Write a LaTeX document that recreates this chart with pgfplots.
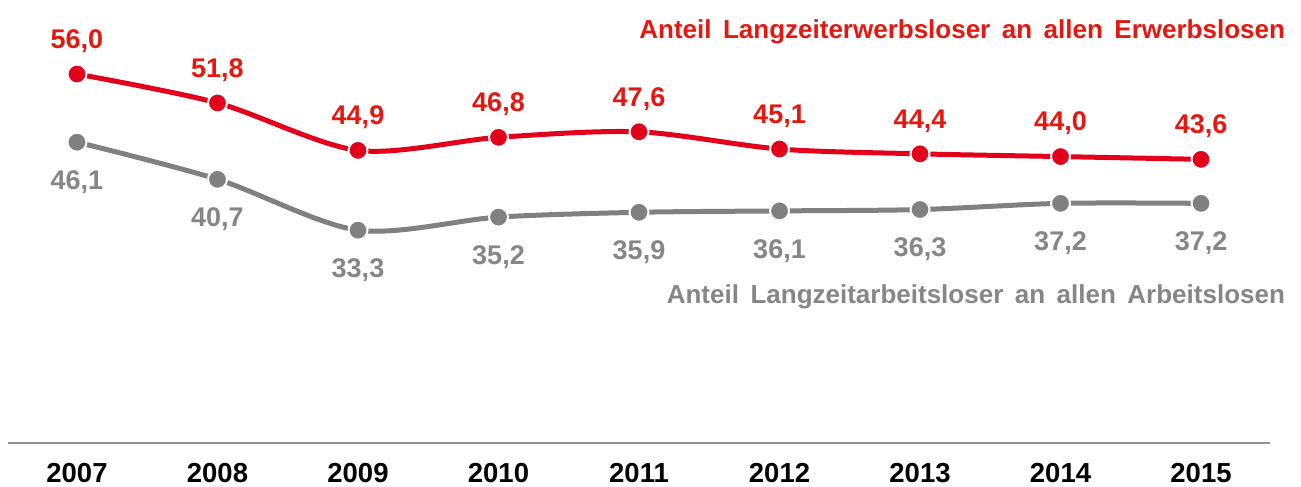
\documentclass[border=0pt]{standalone}
\usepackage{pgfplots}
\pgfplotsset{compat=1.18}
\usepackage{pgfplotstable}
\usepackage{fontspec}
\setmainfont{Liberation Sans}
\definecolor{lred}{RGB}{226,0,26}
\definecolor{tred}{RGB}{227,24,16}
\definecolor{lgray}{RGB}{128,128,128}
\definecolor{tgray}{RGB}{134,134,134}
\definecolor{agray}{RGB}{146,146,146}

\pgfplotstableread{
x y lab
2007 56.0 56,0
2008 51.8 51,8
2009 44.9 44,9
2010 46.8 46,8
2011 47.6 47,6
2012 45.1 45,1
2013 44.4 44,4
2014 44.0 44,0
2015 43.6 43,6
}\redtab
\pgfplotstableread{
x y lab
2007 46.1 46,1
2008 40.7 40,7
2009 33.3 33,3
2010 35.2 35,2
2011 35.9 35,9
2012 36.1 36,1
2013 36.3 36,3
2014 37.2 37,2
2015 37.2 37,2
}\graytab

\newcommand{\ws}{\hspace{11.5bp}}
\begin{document}
\begin{tikzpicture}
\begin{axis}[
  name=ax,
  scale only axis,
  width=1262bp, height=423bp,
  xmin=2006.509, xmax=2015.491,
  ymin=2.36, ymax=63.86,
  axis x line=bottom,
  axis y line=none,
  axis line style={draw=agray, line width=2.5bp, -},
  xtick=data,
  xticklabels={2007,2008,2009,2010,2011,2012,2013,2014,2015},
  major tick length=0pt,
  xticklabel style={anchor=center, yshift=-30bp, font=\fontsize{27.5bp}{32bp}\selectfont\bfseries, text=black},
  clip=false,
  point meta=explicit symbolic,
  nodes near coords,
]
\addplot[lred, line width=5bp, smooth, tension=0.5,
  mark=*, mark size=9.5bp, mark options={fill=lred, draw=white, line width=2bp},
  nodes near coords style={anchor=center, yshift=33bp, text=tred, font=\fontsize{27bp}{32bp}\selectfont\bfseries}]
  table[x=x, y=y, meta=lab] {\redtab};
\addplot[lgray, line width=5bp, smooth, tension=0.5,
  mark=*, mark size=9.5bp, mark options={fill=lgray, draw=white, line width=2bp},
  nodes near coords style={anchor=center, yshift=-40bp, text=tgray, font=\fontsize{27bp}{32bp}\selectfont\bfseries}]
  table[x=x, y=y, meta=lab] {\graytab};
\node[anchor=east, text=tred, font=\fontsize{26bp}{30bp}\selectfont\bfseries, inner sep=0pt]
  at (axis description cs:1.012,0.972) {Anteil\ws Langzeiterwerbsloser\ws an\ws allen\ws Erwerbslosen};
\node[anchor=east, text=tgray, font=\fontsize{26bp}{30bp}\selectfont\bfseries, inner sep=0pt]
  at (axis description cs:1.012,0.345) {Anteil\ws Langzeitarbeitsloser\ws an\ws allen\ws Arbeitslosen};
\end{axis}
\pgfresetboundingbox
\useasboundingbox ([shift={(-8bp,-44bp)}]ax.south west) rectangle ([shift={(31bp,20bp)}]ax.north east);
\end{tikzpicture}
\end{document}
